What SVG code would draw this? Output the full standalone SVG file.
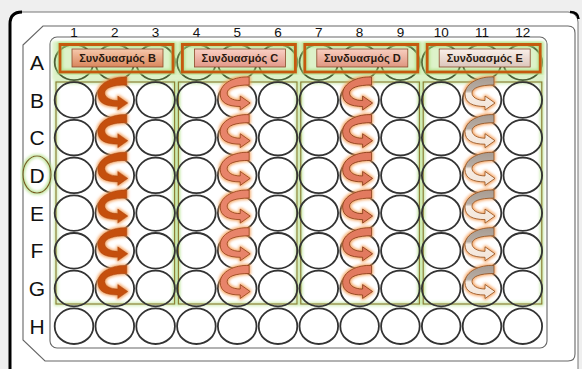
<svg xmlns="http://www.w3.org/2000/svg" xmlns:xlink="http://www.w3.org/1999/xlink" width="582" height="369" viewBox="0 0 582 369">
<style>
.well{fill:none;stroke:#333;stroke-width:1.8}
.wellA{fill:none;stroke:#4b5e35;stroke-width:1.8}
.line{fill:none;stroke:#666;stroke-width:1.1}
.col{font-family:"Liberation Sans",Arial,sans-serif;font-size:13.5px;fill:#111;text-anchor:middle}
.row{font-family:"Liberation Sans",Arial,sans-serif;font-size:21px;fill:#111;text-anchor:middle}
.grp{fill:none;stroke:#8c7a30;stroke-width:1.2}
.lblO{fill:none;stroke:#c55a11;stroke-width:3}
.lblI{stroke:#8b4a2a;stroke-width:0.8}
.lt{font-family:"Liberation Sans",Arial,sans-serif;font-size:11px;font-weight:bold;fill:#2a1a10;text-anchor:middle}
.aB{fill:#c5500f;stroke:#a0400a;stroke-width:0.5}
.aC{fill:#e8846a;stroke:#8a3a14;stroke-width:0.8}
.aD{fill:#e27a5e;stroke:#7a3010;stroke-width:0.8}
.aE{fill:url(#gE);stroke:#8a4a1a;stroke-width:0.8}
</style>
<defs>
<filter id="glowO" x="-50%" y="-50%" width="200%" height="200%">
<feMorphology in="SourceAlpha" operator="dilate" radius="1.2" result="d"/>
<feGaussianBlur in="d" stdDeviation="1.8" result="b"/>
<feFlood flood-color="#f59a50" flood-opacity="0.9"/>
<feComposite in2="b" operator="in" result="g"/>
<feMerge><feMergeNode in="g"/><feMergeNode in="SourceGraphic"/></feMerge>
</filter>
<filter id="glowG" x="-10%" y="-10%" width="120%" height="120%">
<feMorphology in="SourceAlpha" operator="dilate" radius="1" result="d"/>
<feGaussianBlur in="d" stdDeviation="1.5" result="b"/>
<feFlood flood-color="#a8dc78" flood-opacity="0.85"/>
<feComposite in2="b" operator="in" result="g"/>
<feMerge><feMergeNode in="g"/><feMergeNode in="SourceGraphic"/></feMerge>
</filter>
<filter id="soft" x="-5%" y="-20%" width="110%" height="140%">
<feGaussianBlur stdDeviation="1.5"/>
</filter>
<linearGradient id="gE" x1="0" y1="0" x2="0" y2="1">
<stop offset="0" stop-color="#a89c92"/>
<stop offset="0.42" stop-color="#b8ada4"/>
<stop offset="0.5" stop-color="#f7ede4"/>
<stop offset="1" stop-color="#f3e4d8"/>
</linearGradient>
<linearGradient id="lB" x1="0" y1="0" x2="0" y2="1"><stop offset="0" stop-color="#f6c9ac"/><stop offset="1" stop-color="#d9865c"/></linearGradient>
<linearGradient id="lC" x1="0" y1="0" x2="0" y2="1"><stop offset="0" stop-color="#f9d0c4"/><stop offset="1" stop-color="#e29888"/></linearGradient>
<linearGradient id="lD" x1="0" y1="0" x2="0" y2="1"><stop offset="0" stop-color="#f8cfc0"/><stop offset="1" stop-color="#df9680"/></linearGradient>
<linearGradient id="lE" x1="0" y1="0" x2="0" y2="1"><stop offset="0" stop-color="#faf0ea"/><stop offset="1" stop-color="#dcc6bb"/></linearGradient>
<ellipse id="w" rx="19.3" ry="17.8"/>
<path id="arr" d="M12,-23 C-2,-24 -17,-17 -17,-6 C-17,3 -9,6.5 3,6.5 L3,10 L13,3 L3,-4 L3,0.5 C-5,0.5 -10,-3 -10,-7 C-10,-12 -2,-15 12,-15 Z"/>
</defs>

<g id="plate">
<rect x="0" y="0" width="582" height="369" fill="#efefef"/>
<rect x="10" y="12" width="568" height="380" rx="10" fill="#fff" stroke="#777" stroke-width="1"/>
<path d="M10,369 L10,24 Q10,12 22,12" fill="none" stroke="#000" stroke-width="3"/>
<path d="M570,12 Q578,12 578.5,19" fill="none" stroke="#000" stroke-width="2.5"/>
<path class="line" d="M23,45 L43,26 H568 Q575,26 575,33 V354 Q575,361 568,361 H45 L23,340 Z"/>
<rect class="line" x="50" y="37" width="497" height="311" rx="7"/>
<rect x="52" y="41" width="493" height="39" fill="#ddf2c9" filter="url(#soft)"/>
</g>

<g id="column-numbers">
<text class="col" x="74" y="36.5">1</text>
<text class="col" x="114.8" y="36.5">2</text>
<text class="col" x="155.6" y="36.5">3</text>
<text class="col" x="196.4" y="36.5">4</text>
<text class="col" x="237.2" y="36.5">5</text>
<text class="col" x="278" y="36.5">6</text>
<text class="col" x="318.8" y="36.5">7</text>
<text class="col" x="359.6" y="36.5">8</text>
<text class="col" x="400.4" y="36.5">9</text>
<text class="col" x="441.2" y="36.5">10</text>
<text class="col" x="482" y="36.5">11</text>
<text class="col" x="522.8" y="36.5">12</text>
</g>

<g id="row-letters">
<ellipse cx="37" cy="174.5" rx="14" ry="18.5" fill="none" stroke="#7a5520" stroke-width="1.2" filter="url(#glowG)"/>
<text class="row" x="37" y="70">A</text>
<text class="row" x="37" y="107.5">B</text>
<text class="row" x="37" y="145.2">C</text>
<text class="row" x="37" y="182.9">D</text>
<text class="row" x="37" y="220.6">E</text>
<text class="row" x="37" y="258.3">F</text>
<text class="row" x="37" y="296">G</text>
<text class="row" x="37" y="333.7">H</text>
</g>

<g id="group-frames">
<rect class="grp" x="56" y="82" width="118.6" height="222" filter="url(#glowG)"/>
<rect class="grp" x="178.4" y="82" width="118.6" height="222" filter="url(#glowG)"/>
<rect class="grp" x="300.8" y="82" width="118.6" height="222" filter="url(#glowG)"/>
<rect class="grp" x="423.2" y="82" width="118.6" height="222" filter="url(#glowG)"/>
</g>

<g id="wells">
<g id="row-A" class="wellA">
<use href="#w" x="74" y="62.3"/><use href="#w" x="114.8" y="62.3"/><use href="#w" x="155.6" y="62.3"/><use href="#w" x="196.4" y="62.3"/><use href="#w" x="237.2" y="62.3"/><use href="#w" x="278" y="62.3"/><use href="#w" x="318.8" y="62.3"/><use href="#w" x="359.6" y="62.3"/><use href="#w" x="400.4" y="62.3"/><use href="#w" x="441.2" y="62.3"/><use href="#w" x="482" y="62.3"/><use href="#w" x="522.8" y="62.3"/>
</g>
<g id="row-B" class="well">
<use href="#w" x="74" y="100"/><use href="#w" x="114.8" y="100"/><use href="#w" x="155.6" y="100"/><use href="#w" x="196.4" y="100"/><use href="#w" x="237.2" y="100"/><use href="#w" x="278" y="100"/><use href="#w" x="318.8" y="100"/><use href="#w" x="359.6" y="100"/><use href="#w" x="400.4" y="100"/><use href="#w" x="441.2" y="100"/><use href="#w" x="482" y="100"/><use href="#w" x="522.8" y="100"/>
</g>
<g id="row-C" class="well">
<use href="#w" x="74" y="137.7"/><use href="#w" x="114.8" y="137.7"/><use href="#w" x="155.6" y="137.7"/><use href="#w" x="196.4" y="137.7"/><use href="#w" x="237.2" y="137.7"/><use href="#w" x="278" y="137.7"/><use href="#w" x="318.8" y="137.7"/><use href="#w" x="359.6" y="137.7"/><use href="#w" x="400.4" y="137.7"/><use href="#w" x="441.2" y="137.7"/><use href="#w" x="482" y="137.7"/><use href="#w" x="522.8" y="137.7"/>
</g>
<g id="row-D" class="well">
<use href="#w" x="74" y="175.4"/><use href="#w" x="114.8" y="175.4"/><use href="#w" x="155.6" y="175.4"/><use href="#w" x="196.4" y="175.4"/><use href="#w" x="237.2" y="175.4"/><use href="#w" x="278" y="175.4"/><use href="#w" x="318.8" y="175.4"/><use href="#w" x="359.6" y="175.4"/><use href="#w" x="400.4" y="175.4"/><use href="#w" x="441.2" y="175.4"/><use href="#w" x="482" y="175.4"/><use href="#w" x="522.8" y="175.4"/>
</g>
<g id="row-E" class="well">
<use href="#w" x="74" y="213.1"/><use href="#w" x="114.8" y="213.1"/><use href="#w" x="155.6" y="213.1"/><use href="#w" x="196.4" y="213.1"/><use href="#w" x="237.2" y="213.1"/><use href="#w" x="278" y="213.1"/><use href="#w" x="318.8" y="213.1"/><use href="#w" x="359.6" y="213.1"/><use href="#w" x="400.4" y="213.1"/><use href="#w" x="441.2" y="213.1"/><use href="#w" x="482" y="213.1"/><use href="#w" x="522.8" y="213.1"/>
</g>
<g id="row-F" class="well">
<use href="#w" x="74" y="250.8"/><use href="#w" x="114.8" y="250.8"/><use href="#w" x="155.6" y="250.8"/><use href="#w" x="196.4" y="250.8"/><use href="#w" x="237.2" y="250.8"/><use href="#w" x="278" y="250.8"/><use href="#w" x="318.8" y="250.8"/><use href="#w" x="359.6" y="250.8"/><use href="#w" x="400.4" y="250.8"/><use href="#w" x="441.2" y="250.8"/><use href="#w" x="482" y="250.8"/><use href="#w" x="522.8" y="250.8"/>
</g>
<g id="row-G" class="well">
<use href="#w" x="74" y="288.5"/><use href="#w" x="114.8" y="288.5"/><use href="#w" x="155.6" y="288.5"/><use href="#w" x="196.4" y="288.5"/><use href="#w" x="237.2" y="288.5"/><use href="#w" x="278" y="288.5"/><use href="#w" x="318.8" y="288.5"/><use href="#w" x="359.6" y="288.5"/><use href="#w" x="400.4" y="288.5"/><use href="#w" x="441.2" y="288.5"/><use href="#w" x="482" y="288.5"/><use href="#w" x="522.8" y="288.5"/>
</g>
<g id="row-H" class="well">
<use href="#w" x="74" y="326.2"/><use href="#w" x="114.8" y="326.2"/><use href="#w" x="155.6" y="326.2"/><use href="#w" x="196.4" y="326.2"/><use href="#w" x="237.2" y="326.2"/><use href="#w" x="278" y="326.2"/><use href="#w" x="318.8" y="326.2"/><use href="#w" x="359.6" y="326.2"/><use href="#w" x="400.4" y="326.2"/><use href="#w" x="441.2" y="326.2"/><use href="#w" x="482" y="326.2"/><use href="#w" x="522.8" y="326.2"/>
</g>
</g>

<g id="connectors">
<g class="aB" filter="url(#glowO)">
<use href="#arr" x="114.8" y="100"/><use href="#arr" x="114.8" y="137.7"/><use href="#arr" x="114.8" y="175.4"/><use href="#arr" x="114.8" y="213.1"/><use href="#arr" x="114.8" y="250.8"/><use href="#arr" x="114.8" y="288.5"/>
</g>
<g class="aC" filter="url(#glowO)">
<use href="#arr" x="237.2" y="100"/><use href="#arr" x="237.2" y="137.7"/><use href="#arr" x="237.2" y="175.4"/><use href="#arr" x="237.2" y="213.1"/><use href="#arr" x="237.2" y="250.8"/><use href="#arr" x="237.2" y="288.5"/>
</g>
<g class="aD" filter="url(#glowO)">
<use href="#arr" x="359.6" y="100"/><use href="#arr" x="359.6" y="137.7"/><use href="#arr" x="359.6" y="175.4"/><use href="#arr" x="359.6" y="213.1"/><use href="#arr" x="359.6" y="250.8"/><use href="#arr" x="359.6" y="288.5"/>
</g>
<g class="aE" filter="url(#glowO)">
<use href="#arr" x="482" y="100"/><use href="#arr" x="482" y="137.7"/><use href="#arr" x="482" y="175.4"/><use href="#arr" x="482" y="213.1"/><use href="#arr" x="482" y="250.8"/><use href="#arr" x="482" y="288.5"/>
</g>
</g>

<g id="label-B">
<rect class="lblO" x="60" y="44.5" width="113" height="27.5" filter="url(#glowG)"/>
<rect class="lblI" x="72" y="49" width="91" height="18" fill="url(#lB)"/>
<text class="lt" x="117.5" y="61.8">Συνδυασμός B</text>
</g>
<g id="label-C">
<rect class="lblO" x="182.4" y="44.5" width="113" height="27.5" filter="url(#glowG)"/>
<rect class="lblI" x="194.4" y="49" width="91" height="18" fill="url(#lC)"/>
<text class="lt" x="239.9" y="61.8">Συνδυασμός C</text>
</g>
<g id="label-D">
<rect class="lblO" x="304.8" y="44.5" width="113" height="27.5" filter="url(#glowG)"/>
<rect class="lblI" x="316.8" y="49" width="91" height="18" fill="url(#lD)"/>
<text class="lt" x="362.3" y="61.8">Συνδυασμός D</text>
</g>
<g id="label-E">
<rect class="lblO" x="427.2" y="44.5" width="113" height="27.5" filter="url(#glowG)"/>
<rect class="lblI" x="439.2" y="49" width="91" height="18" fill="url(#lE)"/>
<text class="lt" x="484.7" y="61.8">Συνδυασμός E</text>
</g>
</svg>
